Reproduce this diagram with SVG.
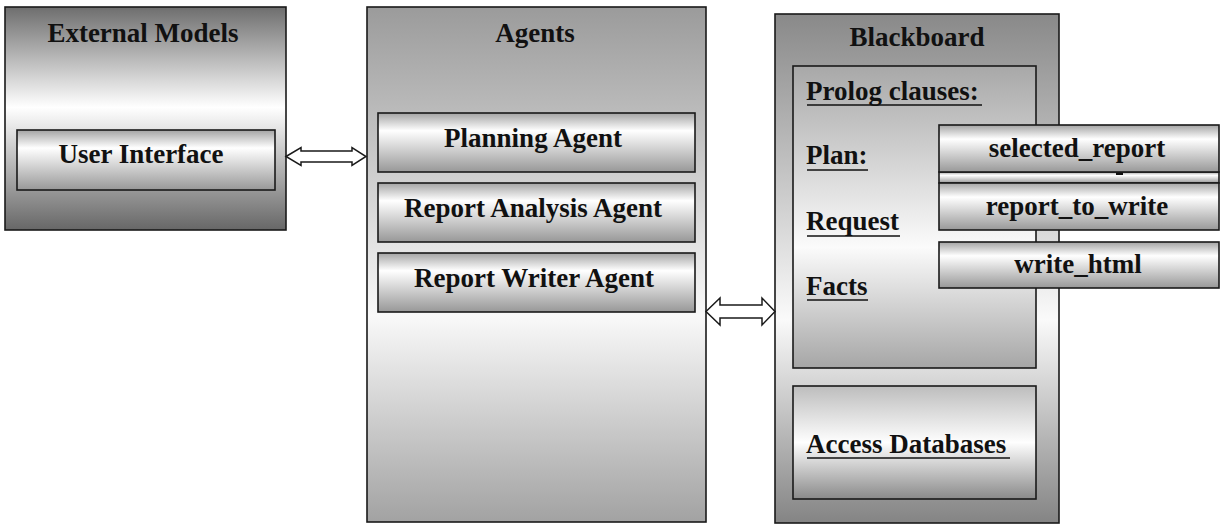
<svg xmlns="http://www.w3.org/2000/svg" width="1225" height="525" viewBox="0 0 1225 525">
  <defs>
    <linearGradient id="gExt" x1="0" y1="0" x2="0" y2="1">
      <stop offset="0" stop-color="#6e6e6e"/>
      <stop offset="0.45" stop-color="#ffffff"/>
      <stop offset="1" stop-color="#676767"/>
    </linearGradient>
    <linearGradient id="gAgents" x1="0" y1="0" x2="0" y2="1">
      <stop offset="0" stop-color="#9b9b9b"/>
      <stop offset="0.6" stop-color="#f9f9f9"/>
      <stop offset="1" stop-color="#a2a2a2"/>
    </linearGradient>
    <linearGradient id="gBoard" x1="0" y1="0" x2="0" y2="1">
      <stop offset="0" stop-color="#898989"/>
      <stop offset="0.6" stop-color="#fafafa"/>
      <stop offset="1" stop-color="#848484"/>
    </linearGradient>
    <linearGradient id="gProlog" x1="0" y1="0" x2="0" y2="1">
      <stop offset="0" stop-color="#a8a8a8"/>
      <stop offset="0.6" stop-color="#fbfbfb"/>
      <stop offset="1" stop-color="#a6a6a6"/>
    </linearGradient>
    <linearGradient id="gAccess" x1="0" y1="0" x2="0" y2="1">
      <stop offset="0" stop-color="#bdbdbd"/>
      <stop offset="0.5" stop-color="#fefefe"/>
      <stop offset="1" stop-color="#8a8a8a"/>
    </linearGradient>
    <linearGradient id="gItem" x1="0" y1="0" x2="0" y2="1">
      <stop offset="0" stop-color="#a4a4a4"/>
      <stop offset="0.3" stop-color="#ffffff"/>
      <stop offset="1" stop-color="#989898"/>
    </linearGradient>
    <style>
      .box { stroke: #1a1a1a; stroke-width: 1.6; }
      .lbl { font-family: "Liberation Serif", "Times New Roman", serif; font-weight: bold; font-size: 27px; fill: #111; }
      .mid { text-anchor: middle; }
      .ul { stroke: #111; stroke-width: 1.6; }
      .arrow { fill: #ffffff; stroke: #1a1a1a; stroke-width: 1.5; stroke-linejoin: miter; }
    </style>
  </defs>

  <rect width="1225" height="525" fill="#ffffff"/>

  <!-- External models column -->
  <g id="external-models">
    <rect class="box" x="5" y="7" width="281" height="223" fill="url(#gExt)"/>
    <text class="lbl mid" x="143" y="42">External Models</text>
  </g>
  <g id="user-interface">
    <rect class="box" x="17" y="130" width="258" height="60" fill="url(#gItem)"/>
    <text class="lbl mid" x="141" y="163">User Interface</text>
  </g>

  <!-- Agents column -->
  <g id="agents">
    <rect class="box" x="367" y="7" width="339" height="515" fill="url(#gAgents)"/>
    <text class="lbl mid" x="535" y="42">Agents</text>
  </g>
  <g id="planning-agent">
    <rect class="box" x="378" y="113" width="317" height="59" fill="url(#gItem)"/>
    <text class="lbl mid" x="533" y="147">Planning Agent</text>
  </g>
  <g id="report-analysis-agent">
    <rect class="box" x="378" y="183" width="317" height="59" fill="url(#gItem)"/>
    <text class="lbl mid" x="533" y="217">Report Analysis Agent</text>
  </g>
  <g id="report-writer-agent">
    <rect class="box" x="378" y="253" width="317" height="59" fill="url(#gItem)"/>
    <text class="lbl mid" x="534" y="287">Report Writer Agent</text>
  </g>

  <!-- Blackboard column -->
  <g id="blackboard">
    <rect class="box" x="775" y="14" width="284" height="509" fill="url(#gBoard)"/>
    <text class="lbl mid" x="917" y="46">Blackboard</text>
  </g>
  <g id="prolog-clauses">
    <rect class="box" x="793" y="66" width="243" height="302" fill="url(#gProlog)"/>
    <text class="lbl" x="806" y="100">Prolog clauses:</text>
    <line class="ul" x1="807" y1="105" x2="982" y2="105"/>
    <text class="lbl" x="806" y="164">Plan:</text>
    <line class="ul" x1="807" y1="170" x2="868" y2="170"/>
    <text class="lbl" x="806" y="230">Request</text>
    <line class="ul" x1="807" y1="236" x2="900" y2="236"/>
    <text class="lbl" x="806" y="295">Facts</text>
    <line class="ul" x1="807" y1="300" x2="868" y2="300"/>
  </g>
  <g id="access-databases">
    <rect class="box" x="793" y="386" width="243" height="113" fill="url(#gAccess)"/>
    <text class="lbl" x="806" y="453">Access Databases</text>
    <line class="ul" x1="807" y1="458" x2="1010" y2="458"/>
  </g>

  <!-- Clause entries -->
  <g id="selected-report">
    <rect class="box" x="939" y="172" width="280" height="11" fill="url(#gItem)"/>
    <rect class="box" x="939" y="125" width="280" height="47" fill="url(#gItem)"/>
    <text class="lbl mid" x="1077" y="157">selected_report</text>
    <rect x="1116" y="172.5" width="7" height="2.5" fill="#111"/>
  </g>
  <g id="report-to-write">
    <rect class="box" x="939" y="183" width="280" height="47" fill="url(#gItem)"/>
    <text class="lbl mid" x="1077" y="215">report_to_write</text>
  </g>
  <g id="write-html">
    <rect class="box" x="939" y="242" width="280" height="46" fill="url(#gItem)"/>
    <text class="lbl mid" x="1078" y="273">write_html</text>
  </g>

  <!-- Connectors: two-way block arrows -->
  <g id="connectors">
    <path class="arrow" d="M286,156.5 L301,147.5 L301,151 L352,151 L352,147.5 L366,156.5 L352,165.5 L352,162 L301,162 L301,165.5 Z"/>
    <path class="arrow" d="M706,311.5 L720,298 L720,305 L762,305 L762,298 L775,311.5 L762,325 L762,318 L720,318 L720,325 Z"/>
  </g>
</svg>
